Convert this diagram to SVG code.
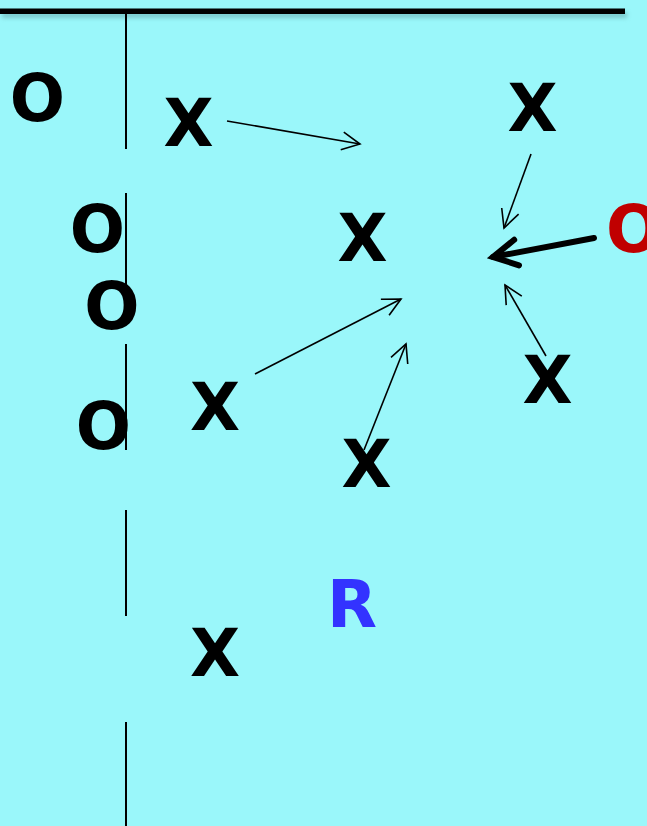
<svg xmlns="http://www.w3.org/2000/svg" width="647" height="826" viewBox="0 0 647 826">
  <style>
    .lbl { font-family: "DejaVu Sans", "Liberation Sans", sans-serif; font-weight: bold; font-size: 65px; }
    .blk { fill: #000000; }
    .red { fill: #C00000; }
    .blue { fill: #3333FF; }
    .arr { stroke: #000000; stroke-width: 1.6; fill: none; }
    .thick { stroke: #000000; stroke-width: 6; fill: none; stroke-linecap: round; }
    .dash { stroke: #000000; stroke-width: 2; }
  </style>
  <defs>
    <marker id="open" markerUnits="userSpaceOnUse" overflow="visible" orient="auto" refX="0" refY="0" markerWidth="20" markerHeight="20">
      <path d="M-18,-9 L0,0 L-18,9" fill="none" stroke="#000000" stroke-width="1.6"/>
    </marker>
    <marker id="openThick" markerUnits="userSpaceOnUse" overflow="visible" orient="auto" refX="0" refY="0" markerWidth="30" markerHeight="30">
      <path d="M-24,-13 L0,0 L-24,13" fill="none" stroke="#000000" stroke-width="6" stroke-linecap="round" stroke-linejoin="miter"/>
    </marker>
    <filter id="shadow" x="-5%" y="-200%" width="110%" height="500%">
      <feGaussianBlur stdDeviation="2"/>
    </filter>
  </defs>
  <rect x="0" y="0" width="647" height="826" fill="#9AF7FA"/>
  <g id="frame">
    <rect x="2" y="12" width="625" height="6" fill="#5a9a9c" opacity="0.5" filter="url(#shadow)"/>
    <rect x="0" y="8.5" width="625" height="5.5" fill="#000000"/>
    <line class="dash" x1="126" y1="14" x2="126" y2="149"/>
    <line class="dash" x1="126" y1="193" x2="126" y2="300"/>
    <line class="dash" x1="126" y1="344" x2="126" y2="450"/>
    <line class="dash" x1="126" y1="510" x2="126" y2="616"/>
    <line class="dash" x1="126" y1="722" x2="126" y2="826"/>
  </g>
  <g id="connectors">
    <line class="arr" x1="227" y1="121" x2="360" y2="144" marker-end="url(#open)"/>
    <line class="arr" x1="531" y1="154" x2="504" y2="228" marker-end="url(#open)"/>
    <line class="thick" x1="594" y1="238" x2="493" y2="257" marker-end="url(#openThick)"/>
    <line class="arr" x1="546" y1="356" x2="505" y2="285" marker-end="url(#open)"/>
    <line class="arr" x1="255" y1="374" x2="401" y2="299" marker-end="url(#open)"/>
    <line class="arr" x1="364" y1="450" x2="406" y2="344" marker-end="url(#open)"/>
  </g>
  <g id="o1"><text class="lbl blk" x="37.5" y="121" text-anchor="middle">O</text></g>
  <g id="o2"><text class="lbl blk" x="97.5" y="252" text-anchor="middle">O</text></g>
  <g id="o3"><text class="lbl blk" x="112" y="329" text-anchor="middle">O</text></g>
  <g id="o4"><text class="lbl blk" x="103.5" y="449" text-anchor="middle">O</text></g>
  <g id="oRed"><text class="lbl red" x="606" y="252">O</text></g>
  <g id="x1"><text class="lbl blk" x="188.5" y="146" text-anchor="middle">X</text></g>
  <g id="x2"><text class="lbl blk" x="532.5" y="131" text-anchor="middle">X</text></g>
  <g id="x3"><text class="lbl blk" x="362.5" y="261" text-anchor="middle">X</text></g>
  <g id="x4"><text class="lbl blk" x="215" y="430" text-anchor="middle">X</text></g>
  <g id="x5"><text class="lbl blk" x="547.5" y="403" text-anchor="middle">X</text></g>
  <g id="x6"><text class="lbl blk" x="366.5" y="487" text-anchor="middle">X</text></g>
  <g id="x7"><text class="lbl blk" x="215" y="676" text-anchor="middle">X</text></g>
  <g id="r"><text class="lbl blue" x="327" y="627">R</text></g>
</svg>
